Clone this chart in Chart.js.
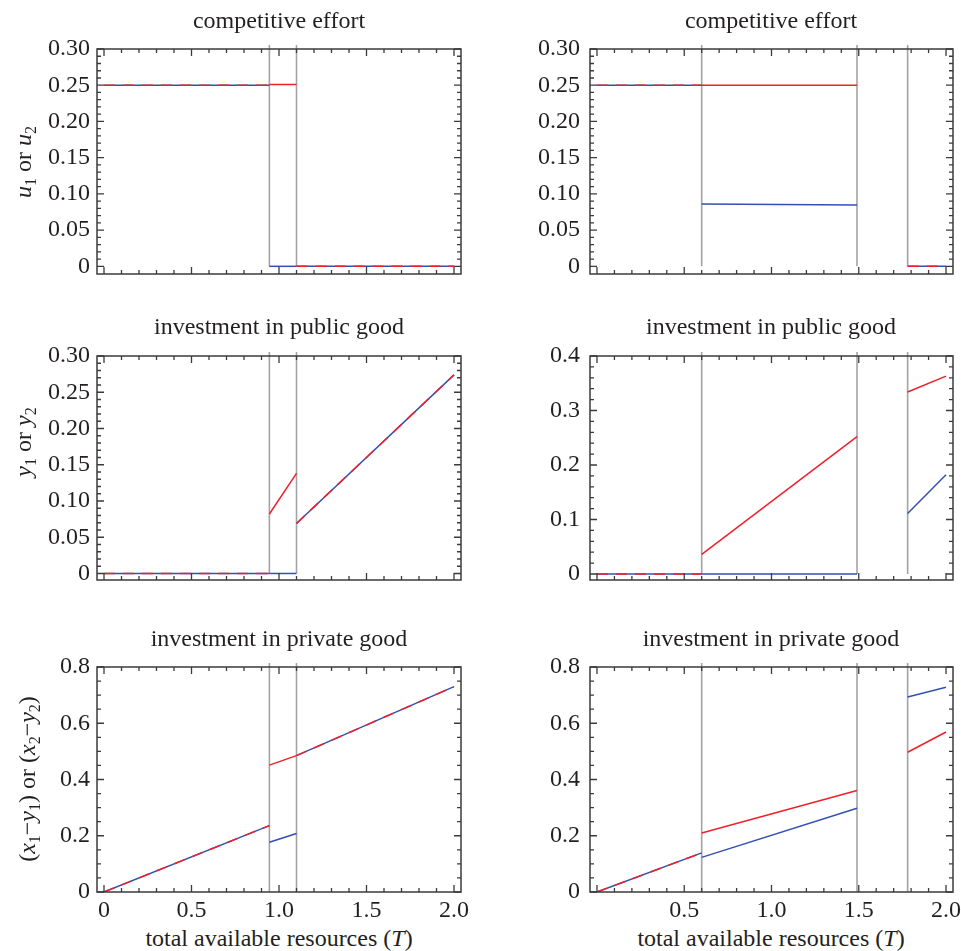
<!DOCTYPE html>
<html>
<head>
<meta charset="utf-8">
<script src="https://cdn.jsdelivr.net/npm/chart.js@4.4.0/dist/chart.umd.min.js"></script>
<style>
  body { margin: 0; background: #fff; width: 961px; height: 951px; position: relative; overflow: hidden;
         font-family: "Liberation Serif", "Times New Roman", serif; color: #231f20; }
  canvas { position: absolute; }
  .txt { position: absolute; font-size: 24px; line-height: 1; white-space: nowrap; transform: translate(-50%, -50%); }
  .ylab { position: absolute; font-size: 24px; line-height: 1; white-space: nowrap; transform: translate(-50%, -50%) rotate(-90deg); }
  sub { font-size: 16px; vertical-align: -5px; line-height: 0; }
</style>
</head>
<body>
<canvas id="effL"></canvas>
<canvas id="effR"></canvas>
<canvas id="pubL"></canvas>
<canvas id="pubR"></canvas>
<canvas id="priL"></canvas>
<canvas id="priR"></canvas>

<div class="txt" style="left:279px; top:20px">competitive effort</div>
<div class="txt" style="left:771px; top:20px">competitive effort</div>
<div class="txt" style="left:279px; top:326px">investment in public good</div>
<div class="txt" style="left:771px; top:326px">investment in public good</div>
<div class="txt" style="left:279px; top:638px">investment in private good</div>
<div class="txt" style="left:771px; top:638px">investment in private good</div>

<div class="ylab" style="left:23px; top:162px"><i>u</i><sub>1</sub> or <i>u</i><sub>2</sub></div>
<div class="ylab" style="left:23px; top:442px"><i>y</i><sub>1</sub> or <i>y</i><sub>2</sub></div>
<div class="ylab" style="left:27px; top:779px">(<i>x</i><sub>1</sub>−<i>y</i><sub>1</sub>) or (<i>x</i><sub>2</sub>−<i>y</i><sub>2</sub>)</div>

<div class="txt" style="left:279px; top:938px">total available resources (<i>T</i>)</div>
<div class="txt" style="left:771px; top:938px">total available resources (<i>T</i>)</div>

<script>
// regime boundaries on the T axis (grey vertical lines)
const breaksLeft = [0.945, 1.10];
const breaksRight = [0.60, 1.49, 1.78];

// x axis
const xTicks = [0, 0.5, 1.0, 1.5, 2.0];
const xLabelsLeft = ['0', '0.5', '1.0', '1.5', '2.0'];
const xLabelsRight = ['', '0.5', '1.0', '1.5', '2.0'];

// y axis ticks
const effortTicks = [0, 0.05, 0.10, 0.15, 0.20, 0.25, 0.30];
const publicTicksL = [0, 0.05, 0.10, 0.15, 0.20, 0.25, 0.30];
const publicTicksR = [0, 0.1, 0.2, 0.3, 0.4];
const privateTicks = [0, 0.2, 0.4, 0.6, 0.8];

// competitive effort, left column (segments between the breaks)
const effL_T    = [[0, 0.945], [0.945, 1.10], [1.10, 2.0]];
const effL_red  = [[0.25, 0.25], [0.251, 0.251], [0, 0]];
const effL_blue = [[0.25, 0.25], [0, 0], [0, 0]];
const effL_same = [true, false, true];

// competitive effort, right column
const effR_T    = [[0, 0.60], [0.60, 1.49], [1.78, 2.0]];
const effR_red  = [[0.25, 0.25], [0.25, 0.25], [0, 0]];
const effR_blue = [[0.25, 0.25], [0.086, 0.0845], [0, 0]];
const effR_same = [true, false, true];

// investment in public good, left column
const pubL_T    = [[0, 0.945], [0.945, 1.10], [1.10, 2.0]];
const pubL_red  = [[0, 0], [0.082, 0.138], [0.069, 0.274]];
const pubL_blue = [[0, 0], [0, 0], [0.069, 0.274]];
const pubL_same = [true, false, true];

// investment in public good, right column
const pubR_T    = [[0, 0.60], [0.60, 1.49], [1.78, 2.0]];
const pubR_red  = [[0, 0], [0.036, 0.252], [0.334, 0.363]];
const pubR_blue = [[0, 0], [0, 0], [0.111, 0.182]];
const pubR_same = [true, false, false];

// investment in private good, left column
const priL_T    = [[0, 0.945], [0.945, 1.10], [1.10, 2.0]];
const priL_red  = [[0, 0.236], [0.451, 0.485], [0.485, 0.730]];
const priL_blue = [[0, 0.236], [0.177, 0.208], [0.485, 0.730]];
const priL_same = [true, false, true];

// investment in private good, right column
const priR_T    = [[0, 0.60], [0.60, 1.49], [1.78, 2.0]];
const priR_red  = [[0, 0.139], [0.21, 0.361], [0.497, 0.569]];
const priR_blue = [[0, 0.139], [0.123, 0.298], [0.693, 0.728]];
const priR_same = [true, false, false];

const RED = '#f0202a';
const BLUE = '#3350b0';
const GREY = '#a3a3a3';
const FONT = { family: '"Liberation Serif", "Times New Roman", serif', size: 24 };

// frame with inward ticks on all four sides
const frameTicks = {
  id: 'frameTicks',
  afterDatasetsDraw(chart, args, o) {
    const { ctx, chartArea: a, scales: { x, y } } = chart;
    ctx.save();
    ctx.strokeStyle = '#3b3b3b';
    ctx.lineWidth = 1.3;
    ctx.beginPath();
    const nx = Math.round(2 / 0.1);
    for (let i = 0; i <= nx; i++) {
      const px = x.getPixelForValue(i * 0.1);
      const len = i % 5 === 0 ? 7 : 4;
      ctx.moveTo(px, a.bottom); ctx.lineTo(px, a.bottom - len);
      ctx.moveTo(px, a.top); ctx.lineTo(px, a.top + len);
    }
    const ny = Math.round(o.yMax / o.yMinor);
    const every = Math.round(o.yMajor / o.yMinor);
    for (let i = 0; i <= ny; i++) {
      const py = y.getPixelForValue(i * o.yMinor);
      const len = i % every === 0 ? 7 : 4;
      ctx.moveTo(a.left, py); ctx.lineTo(a.left + len, py);
      ctx.moveTo(a.right, py); ctx.lineTo(a.right - len, py);
    }
    ctx.stroke();
    ctx.lineWidth = 1.5;
    ctx.strokeRect(a.left, a.top, a.right - a.left, a.bottom - a.top);
    ctx.restore();
  }
};

function makePanel(id, p) {
  const datasets = [];
  p.T.forEach((seg, i) => {
    datasets.push({
      data: seg.map((t, k) => ({ x: t, y: p.red[i][k] })),
      borderColor: RED, borderDash: p.same[i] ? [11, 8] : [], order: 1
    });
    datasets.push({
      data: seg.map((t, k) => ({ x: t, y: p.blue[i][k] })),
      borderColor: BLUE, order: 2
    });
  });
  const top = p.yMax + (p.yMax - p.yMin) * 0.018;
  p.breaks.forEach(b => {
    datasets.push({
      data: [{ x: b, y: 0 }, { x: b, y: top }],
      borderColor: GREY, borderWidth: 1.6, clip: false, order: 3
    });
  });

  const cv = document.getElementById(id);
  cv.width = p.w; cv.height = p.h;
  cv.style.left = p.left + 'px'; cv.style.top = p.top + 'px';
  cv.style.width = p.w + 'px'; cv.style.height = p.h + 'px';

  new Chart(cv.getContext('2d'), {
    type: 'line',
    data: { datasets },
    options: {
      responsive: false,
      animation: false,
      events: [],
      devicePixelRatio: 1,
      elements: { point: { radius: 0 }, line: { borderWidth: 1.5, tension: 0, fill: false } },
      layout: { padding: { left: 0, right: p.padR, top: 25, bottom: 0 } },
      plugins: {
        legend: { display: false },
        tooltip: { enabled: false },
        frameTicks: { yMax: p.yMax, yMinor: p.yMinor, yMajor: p.yMajor }
      },
      scales: {
        x: {
          type: 'linear', min: -0.04, max: 2.04,
          grid: { display: false, drawTicks: false },
          border: { display: false },
          afterBuildTicks: s => { s.ticks = xTicks.map(v => ({ value: v })); },
          afterFit: s => { s.height = p.xH; },
          ticks: {
            display: p.showX, padding: 4, autoSkip: false, maxRotation: 0,
            font: FONT, color: '#231f20',
            callback: (v, i) => p.xLabels[i]
          }
        },
        y: {
          type: 'linear', min: p.yMin, max: p.yMax,
          grid: { display: false, drawTicks: false },
          border: { display: false },
          afterBuildTicks: s => { s.ticks = p.yTicks.map(v => ({ value: v })); },
          afterFit: s => { s.width = p.yW; },
          ticks: {
            padding: p.yPad, autoSkip: false, font: FONT, color: '#231f20',
            callback: v => v === 0 ? '0' : v.toFixed(p.dec)
          }
        }
      }
    },
    plugins: [frameTicks]
  });
}

const colL = { left: 0, w: 480, yW: 97, padR: 19, yPad: 7, xLabels: xLabelsLeft, breaks: breaksLeft };
const colR = { left: 480, w: 501, yW: 110, padR: 28, yPad: 10, xLabels: xLabelsRight, breaks: breaksRight };
// chart areas: row 1 49-274, row 2 356-580, row 3 667-892
const row1 = { top: 24, h: 25 + 225 + 28, xH: 28, showX: false };
const row2 = { top: 331, h: 25 + 224 + 28, xH: 28, showX: false };
const row3 = { top: 642, h: 25 + 225 + 30, xH: 30, showX: true };

makePanel('effL', { ...colL, ...row1, T: effL_T, red: effL_red, blue: effL_blue, same: effL_same,
  yMin: -0.0106, yMax: 0.30, yTicks: effortTicks, yMinor: 0.01, yMajor: 0.05, dec: 2 });
makePanel('effR', { ...colR, ...row1, T: effR_T, red: effR_red, blue: effR_blue, same: effR_same,
  yMin: -0.0106, yMax: 0.30, yTicks: effortTicks, yMinor: 0.01, yMajor: 0.05, dec: 2 });
makePanel('pubL', { ...colL, ...row2, T: pubL_T, red: pubL_red, blue: pubL_blue, same: pubL_same,
  yMin: -0.009, yMax: 0.30, yTicks: publicTicksL, yMinor: 0.01, yMajor: 0.05, dec: 2 });
makePanel('pubR', { ...colR, ...row2, T: pubR_T, red: pubR_red, blue: pubR_blue, same: pubR_same,
  yMin: -0.011, yMax: 0.4, yTicks: publicTicksR, yMinor: 0.02, yMajor: 0.1, dec: 1 });
makePanel('priL', { ...colL, ...row3, T: priL_T, red: priL_red, blue: priL_blue, same: priL_same,
  yMin: 0, yMax: 0.8, yTicks: privateTicks, yMinor: 0.05, yMajor: 0.2, dec: 1 });
makePanel('priR', { ...colR, ...row3, T: priR_T, red: priR_red, blue: priR_blue, same: priR_same,
  yMin: 0, yMax: 0.8, yTicks: privateTicks, yMinor: 0.05, yMajor: 0.2, dec: 1 });
</script>
</body>
</html>
